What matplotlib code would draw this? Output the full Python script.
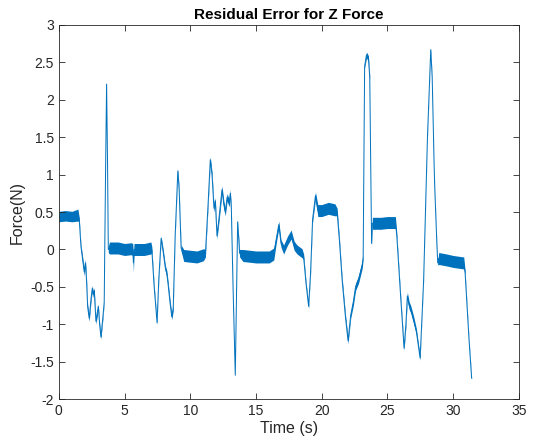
import matplotlib
matplotlib.use("Agg")
import matplotlib.pyplot as plt
import numpy as np

# Key points: time (s), force (N), noise half-width (N)
time_s = [
    0.0, 0.5, 1.0, 1.45, 1.55, 1.68, 1.78, 1.93, 2.02, 2.10,
    2.19, 2.31, 2.45, 2.54, 2.62, 2.69, 2.82, 2.92, 3.0, 3.1,
    3.2, 3.35, 3.45, 3.55, 3.63, 3.70, 3.76, 3.85, 4.5, 5.0,
    5.5, 5.62, 5.67, 5.72, 6.5, 7.0, 7.07, 7.25, 7.47, 7.6,
    7.78, 7.95, 8.1, 8.21, 8.3, 8.45, 8.59, 8.7, 8.85, 9.05,
    9.15, 9.3, 9.5, 10.5, 11.0, 11.15, 11.35, 11.52, 11.65, 11.8,
    11.9, 12.03, 12.2, 12.41, 12.55, 12.66, 12.8, 12.95, 13.04, 13.12,
    13.25, 13.42, 13.52, 13.6, 13.75, 14.0, 15.0, 16.0, 16.35, 16.55,
    16.73, 16.9, 17.1, 17.4, 17.67, 17.9, 18.12, 18.5, 18.62, 18.8,
    19.0, 19.15, 19.3, 19.52, 19.7, 20.0, 20.5, 21.0, 21.17, 21.35,
    21.55, 21.8, 22.0, 22.2, 22.4, 22.57, 22.8, 23.08, 23.15, 23.26,
    23.4, 23.55, 23.65, 23.72, 23.79, 23.85, 24.5, 25.0, 25.6, 25.7,
    26.0, 26.26, 26.4, 26.51, 26.65, 26.77, 27.0, 27.2, 27.48, 27.6,
    27.75, 27.95, 28.04, 28.17, 28.29, 28.4, 28.55, 28.6, 28.75, 28.82,
    28.9, 29.5, 30.0, 30.8, 30.9, 31.2, 31.4]
force_n = [
    0.44, 0.45, 0.44, 0.46, 0.40, 0.04, -0.10, -0.30, -0.18, -0.40,
    -0.77, -0.92, -0.65, -0.52, -0.60, -0.55, -0.96, -0.85, -0.76, -1.0,
    -1.17, -0.9, -0.7, 1.0, 2.21, 1.2, 0.0, 0.02, 0.02, 0.0,
    0.01, 0.0, -0.18, 0.0, 0.0, 0.02, 0.0, -0.5, -0.98, -0.4,
    0.15, -0.05, -0.25, -0.32, -0.45, -0.7, -0.9, -0.78, 0.2, 1.05,
    0.8, 0.02, -0.08, -0.10, -0.07, -0.05, 0.6, 1.2, 1.0, 0.55,
    0.65, 0.18, 0.45, 0.8, 0.6, 0.5, 0.7, 0.62, 0.75, 0.55,
    -0.5, -1.68, -0.5, 0.37, -0.05, -0.08, -0.10, -0.10, -0.06, 0.15,
    0.33, 0.08, 0.0, 0.12, 0.20, 0.05, 0.0, -0.05, -0.1, -0.45,
    -0.76, -0.3, 0.4, 0.72, 0.52, 0.52, 0.55, 0.53, 0.50, 0.1,
    -0.41, -0.9, -1.22, -0.88, -0.7, -0.5, -0.4, -0.2, -0.1, 2.45,
    2.6, 2.55, 2.3, 1.15, 0.08, 0.35, 0.35, 0.36, 0.36, 0.2,
    -0.63, -1.32, -1.0, -0.62, -0.75, -0.8, -0.95, -1.1, -1.45, -1.0,
    -0.4, 0.9, 1.5, 2.1, 2.67, 2.3, 1.1, 0.8, 0.1, -0.18,
    -0.12, -0.14, -0.16, -0.18, -0.3, -1.2, -1.72]
noise_n = [
    0.07, 0.07, 0.07, 0.08, 0.03, 0.03, 0.04, 0.05, 0.05, 0.04,
    0.04, 0.04, 0.04, 0.04, 0.04, 0.04, 0.04, 0.04, 0.03, 0.03,
    0.03, 0.03, 0.02, 0.02, 0.02, 0.02, 0.04, 0.08, 0.08, 0.08,
    0.08, 0.08, 0.12, 0.08, 0.08, 0.08, 0.04, 0.03, 0.02, 0.03,
    0.03, 0.04, 0.04, 0.04, 0.04, 0.04, 0.04, 0.04, 0.03, 0.03,
    0.03, 0.04, 0.08, 0.08, 0.08, 0.05, 0.04, 0.04, 0.04, 0.05,
    0.04, 0.04, 0.05, 0.05, 0.05, 0.05, 0.05, 0.05, 0.05, 0.03,
    0.02, 0.02, 0.02, 0.02, 0.05, 0.08, 0.08, 0.08, 0.08, 0.05,
    0.05, 0.05, 0.06, 0.06, 0.06, 0.06, 0.06, 0.06, 0.04, 0.03,
    0.03, 0.03, 0.04, 0.05, 0.08, 0.08, 0.08, 0.08, 0.05, 0.04,
    0.04, 0.04, 0.04, 0.04, 0.05, 0.05, 0.05, 0.05, 0.03, 0.03,
    0.04, 0.04, 0.03, 0.02, 0.02, 0.08, 0.08, 0.08, 0.08, 0.04,
    0.03, 0.03, 0.04, 0.05, 0.05, 0.05, 0.05, 0.04, 0.03, 0.02,
    0.02, 0.02, 0.02, 0.02, 0.02, 0.02, 0.02, 0.02, 0.02, 0.03,
    0.08, 0.08, 0.08, 0.08, 0.03, 0.02, 0.02]

x_ticks = [0, 5, 10, 15, 20, 25, 30, 35]
y_ticks = [-2, -1.5, -1, -0.5, 0, 0.5, 1, 1.5, 2, 2.5, 3]
y_tick_labels = ["-2", "-1.5", "-1", "-0.5", "0", "0.5", "1", "1.5", "2", "2.5", "3"]

plt.rcParams['font.family'] = ['Liberation Sans', 'DejaVu Sans']
color = '#0072BD'
axis_color = '#262626'

fig = plt.figure(figsize=(5.4, 4.46), dpi=100)
ax = fig.add_axes([0.109, 0.105, 0.852, 0.839])

t = np.array(time_s)
f = np.array(force_n)
w = np.array(noise_n)
ax.fill_between(t, f - w, f + w, color=color, linewidth=0)
ax.plot(t, f, color=color, linewidth=0.7)

ax.set_xlim(0, 35)
ax.set_ylim(-2, 3)
ax.set_xticks(x_ticks)
ax.set_yticks(y_ticks)
ax.set_yticklabels(y_tick_labels)
ax.tick_params(direction='in', top=True, right=True, length=4, width=0.6,
               colors=axis_color, labelsize=10, labelcolor=axis_color)
for s in ax.spines.values():
    s.set_color(axis_color)
    s.set_linewidth(0.6)

ax.set_title("Residual Error for Z Force", fontsize=11, fontweight='bold', pad=4)
ax.set_xlabel("Time (s)", fontsize=11.5, color=axis_color, labelpad=2)
ax.set_ylabel("Force(N)", fontsize=11.5, color=axis_color, labelpad=4)

fig.savefig("out.png", dpi=100)
